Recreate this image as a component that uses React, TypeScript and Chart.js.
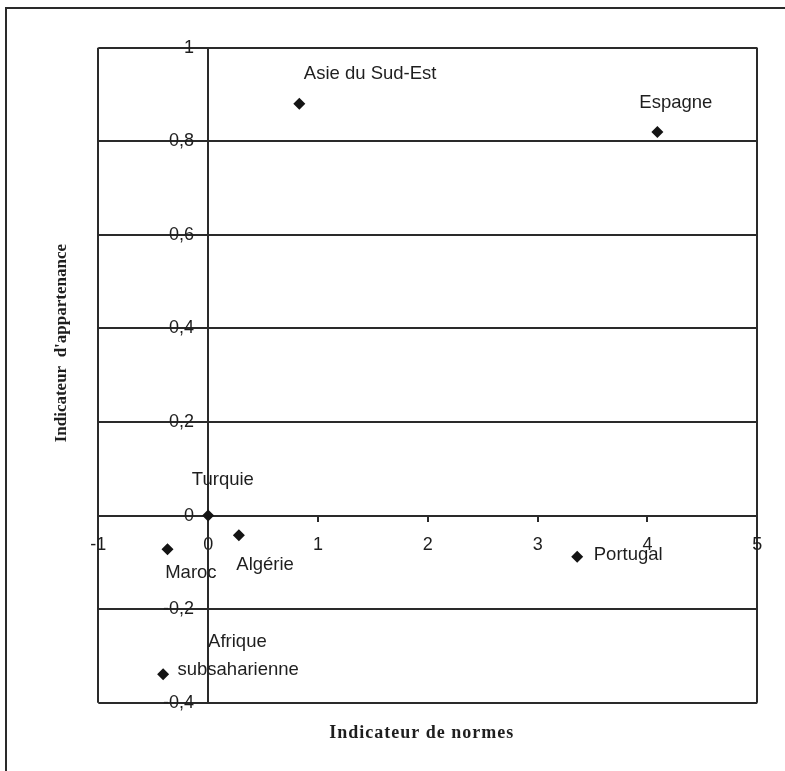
import { useEffect, useRef } from "react";
import { Chart, registerables } from "chart.js";

Chart.register(...registerables);

// ---- data ----
const countries = [
  "Asie du Sud-Est",
  "Espagne",
  "Turquie",
  "Algérie",
  "Maroc",
  "Portugal",
  "Afrique\nsubsaharienne",
];
const normes = [0.83, 4.09, 0, 0.28, -0.37, 3.36, -0.41];
const appartenance = [0.88, 0.82, 0, -0.042, -0.072, -0.088, -0.339];
const xTickValues = [-1, 0, 1, 2, 3, 4, 5];
const yTickValues = [-0.4, -0.2, 0, 0.2, 0.4, 0.6, 0.8, 1];
const xTitleText = "Indicateur de normes";
const yTitleText = "Indicateur  d'appartenance";

// ---- label placement (style, px offsets from the marker) ----
const labelOffsets: { dx: number; dy: number }[][] = [
  [{ dx: 4.5, dy: -29.5 }],
  [{ dx: -18, dy: -29.5 }],
  [{ dx: -16.3, dy: -35.3 }],
  [{ dx: -2.6, dy: 30 }],
  [{ dx: -2.3, dy: 23.7 }],
  [{ dx: 16.6, dy: -1.7 }],
  [
    { dx: 45, dy: -32.3 },
    { dx: 14.4, dy: -4 },
  ],
];

const INK = "#1e1e1e";
const LINE = "#2a2a2a";
const SANS = '"Liberation Sans", Arial, sans-serif';
const SERIF = '"Liberation Serif", "Times New Roman", serif';

const W = 785;
const H = 771;
const AREA = { left: 98.3, right: 757.3, top: 47.7, bottom: 702.7 };

const fmt = (v: number) => String(Math.round(v * 10) / 10).replace(".", ",");

const labelPlugin = {
  id: "pointLabels",
  afterDatasetsDraw(chart: any) {
    const ctx = chart.ctx;
    const meta = chart.getDatasetMeta(0);
    ctx.save();
    ctx.font = `18.5px ${SANS}`;
    ctx.fillStyle = INK;
    ctx.textAlign = "left";
    ctx.textBaseline = "middle";
    meta.data.forEach((pt: any, i: number) => {
      const lines = countries[i].split("\n");
      lines.forEach((line, j) => {
        const o = labelOffsets[i][j];
        ctx.fillText(line, pt.x + o.dx, pt.y + o.dy);
      });
    });
    ctx.restore();
  },
};

const wrapMethod = (
  scale: any,
  method: string,
  fn: (ctx: CanvasRenderingContext2D) => void
) => {
  if (!scale) return;
  const flag = "__wrapped_" + method;
  if (scale[flag]) return;
  const orig = scale[method].bind(scale);
  scale[method] = function (...args: any[]) {
    const ctx = scale.ctx;
    ctx.save();
    fn(ctx);
    orig(...args);
    ctx.restore();
  };
  scale[flag] = true;
};

const tweaks = {
  id: "tweaks",
  beforeDraw(chart: any) {
    wrapMethod(chart.scales.xTitle, "drawTitle", (ctx) => {
      (ctx as any).letterSpacing = "1px";
      ctx.translate(-6, 0);
    });
    wrapMethod(chart.scales.yTitle, "drawTitle", (ctx) => {
      ctx.translate(0, -32);
    });
    wrapMethod(chart.scales.y, "drawLabels", (ctx) => {
      ctx.translate(-14, 0);
    });
  },
};

export default function App() {
  const ref = useRef<HTMLCanvasElement | null>(null);

  useEffect(() => {
    if (!ref.current) return;
    const xMin = xTickValues[0];
    const xMax = xTickValues[xTickValues.length - 1];
    const yMin = yTickValues[0];
    const yMax = yTickValues[yTickValues.length - 1];

    const chart = new Chart(ref.current, {
      type: "scatter",
      data: {
        labels: countries,
        datasets: [
          {
            label: "Pays",
            data: normes.map((x, i) => ({ x, y: appartenance[i] })),
            xAxisID: "x",
            yAxisID: "y",
            pointStyle: "rectRot",
            pointRadius: 6,
            pointHoverRadius: 6,
            backgroundColor: "#141414",
            borderColor: "#141414",
            borderWidth: 0,
          },
        ],
      },
      options: {
        responsive: false,
        animation: false,
        events: [],
        layout: {
          padding: {
            left: 51.8,
            top: AREA.top,
            right: W - AREA.right,
            bottom: 0,
          },
        },
        plugins: {
          legend: { display: false },
          tooltip: { enabled: false },
        },
        scales: {
          x: {
            type: "linear",
            axis: "x",
            position: { y: 0 } as any,
            min: xMin,
            max: xMax,
            afterBuildTicks: (s: any) => {
              s.ticks = xTickValues.map((v) => ({ value: v }));
            },
            afterFit: (s: any) => {
              s.height = 0;
            },
            grid: {
              drawOnChartArea: true,
              color: (c: any) =>
                c.tick && (c.tick.value === xMin || c.tick.value === xMax)
                  ? LINE
                  : "rgba(0,0,0,0)",
              lineWidth: 2,
              drawTicks: true,
              tickLength: 5,
              tickColor: LINE,
              tickWidth: 2,
            },
            border: { display: true, color: LINE, width: 2 },
            ticks: {
              font: { family: SANS, size: 18 },
              color: INK,
              padding: 14,
              maxRotation: 0,
              autoSkip: false,
              callback: (v: any) => fmt(Number(v)),
            },
          } as any,
          y: {
            type: "linear",
            axis: "y",
            position: { x: 0 } as any,
            min: yMin,
            max: yMax,
            afterBuildTicks: (s: any) => {
              s.ticks = yTickValues.map((v) => ({ value: v }));
            },
            afterFit: (s: any) => {
              s.width = 0;
            },
            grid: {
              drawOnChartArea: true,
              color: LINE,
              lineWidth: 2,
              drawTicks: false,
            },
            border: { display: true, color: LINE, width: 2 },
            ticks: {
              font: { family: SANS, size: 18 },
              color: INK,
              padding: 0,
              autoSkip: false,
              callback: (v: any) => fmt(Number(v)),
            },
          } as any,
          xTitle: {
            type: "linear",
            axis: "x",
            position: "bottom",
            min: xMin,
            max: xMax,
            afterFit: (s: any) => {
              s.height = H - AREA.bottom;
            },
            ticks: { display: false },
            grid: { display: false },
            border: { display: false },
            title: {
              display: true,
              text: xTitleText,
              color: INK,
              font: { family: SERIF, size: 18, weight: "bold", lineHeight: 1.2 },
              padding: { top: 0, bottom: 27.2 },
            },
          } as any,
          yTitle: {
            type: "linear",
            axis: "y",
            position: "left",
            min: yMin,
            max: yMax,
            afterFit: (s: any) => {
              s.width = AREA.left - 51.8;
            },
            ticks: { display: false },
            grid: { display: false },
            border: { display: false },
            title: {
              display: true,
              text: yTitleText,
              color: INK,
              font: { family: SERIF, size: 17, weight: "bold", lineHeight: 1.2 },
              padding: { top: 0, bottom: 0 },
            },
          } as any,
        },
      },
      plugins: [labelPlugin, tweaks],
    });
    return () => chart.destroy();
  }, []);

  return (
    <div
      style={{
        position: "absolute",
        left: 0,
        top: 0,
        width: W,
        height: H,
        background: "#fff",
        overflow: "hidden",
      }}
    >
      <div
        style={{
          position: "absolute",
          left: 5,
          top: 7,
          right: -10,
          bottom: -10,
          borderLeft: "2px solid #2a2a2a",
          borderTop: "2px solid #2a2a2a",
        }}
      />
      <canvas
        ref={ref}
        width={W}
        height={H}
        style={{ position: "absolute", left: 0, top: 0, width: W, height: H }}
      />
    </div>
  );
}
